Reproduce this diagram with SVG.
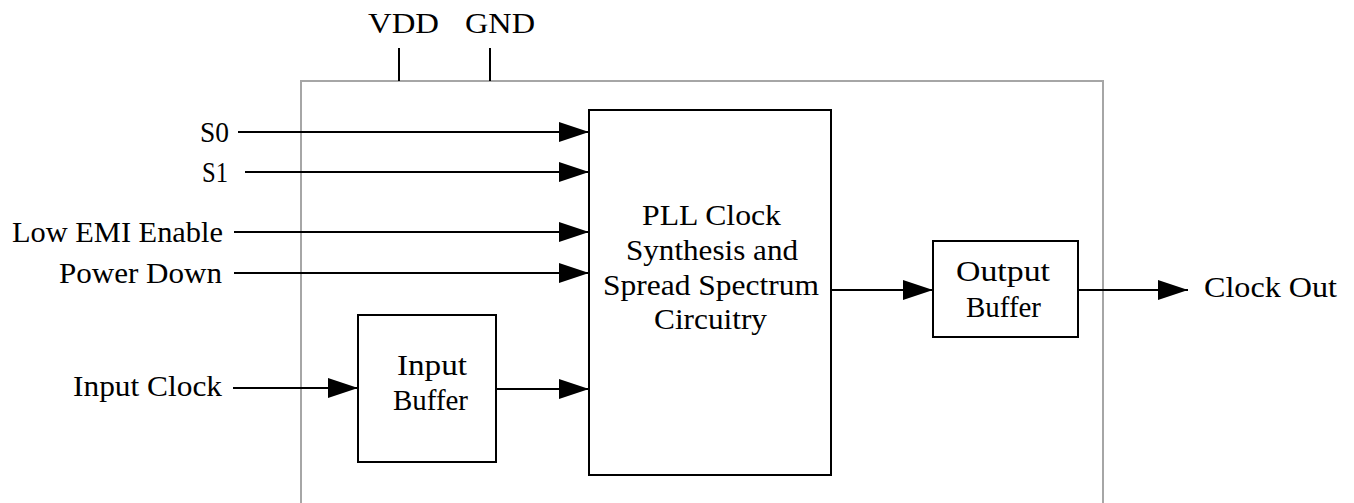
<svg xmlns="http://www.w3.org/2000/svg" width="1354" height="503" viewBox="0 0 1354 503">
<defs>
<style>
text{font-family:"Liberation Serif","Times New Roman",serif;font-size:30px;fill:#000}
.box{fill:#fff;stroke:#000;stroke-width:2}
.wire{fill:none;stroke:#000;stroke-width:2}
.chip{fill:none;stroke:#a6a6a6;stroke-width:2}
</style>
<marker id="ah" viewBox="0 0 30 20" refX="30" refY="10" markerWidth="30" markerHeight="20" markerUnits="userSpaceOnUse" orient="auto">
<path d="M0,0 L30,10 L0,20 Z" fill="#000"/>
</marker>
</defs>
<rect width="1354" height="503" fill="#fff"/>
<g id="chip">
<path class="chip" d="M301,520 L301,81 L1103,81 L1103,520"/>
</g>
<g id="power">
<text x="368" y="33" textLength="71" lengthAdjust="spacingAndGlyphs">VDD</text>
<text x="465" y="33" textLength="70" lengthAdjust="spacingAndGlyphs">GND</text>
<line class="wire" x1="399" y1="48" x2="399" y2="81"/>
<line class="wire" x1="490" y1="48" x2="490" y2="81"/>
</g>
<g id="pll">
<rect class="box" x="589" y="110" width="242" height="365"/>
<text x="642" y="225" textLength="139" lengthAdjust="spacingAndGlyphs">PLL Clock</text>
<text x="626" y="260" textLength="172" lengthAdjust="spacingAndGlyphs">Synthesis and</text>
<text x="603" y="295" textLength="216" lengthAdjust="spacingAndGlyphs">Spread Spectrum</text>
<text x="654" y="329" textLength="113" lengthAdjust="spacingAndGlyphs">Circuitry</text>
</g>
<g id="input-buffer">
<rect class="box" x="358" y="315" width="138" height="147"/>
<text x="397" y="375" textLength="70" lengthAdjust="spacingAndGlyphs">Input</text>
<text x="393" y="410" textLength="75" lengthAdjust="spacingAndGlyphs">Buffer</text>
</g>
<g id="output-buffer">
<rect class="box" x="933" y="241" width="145" height="96"/>
<text x="956" y="281" textLength="94" lengthAdjust="spacingAndGlyphs">Output</text>
<text x="966" y="317" textLength="75" lengthAdjust="spacingAndGlyphs">Buffer</text>
</g>
<g id="labels">
<text x="200" y="142" textLength="29" lengthAdjust="spacingAndGlyphs">S0</text>
<text x="202" y="182" textLength="26" lengthAdjust="spacingAndGlyphs">S1</text>
<text x="12" y="242" textLength="211" lengthAdjust="spacingAndGlyphs">Low EMI Enable</text>
<text x="59" y="283" textLength="163" lengthAdjust="spacingAndGlyphs">Power Down</text>
<text x="73" y="396" textLength="149" lengthAdjust="spacingAndGlyphs">Input Clock</text>
<text x="1204" y="297" textLength="133" lengthAdjust="spacingAndGlyphs">Clock Out</text>
</g>
<g id="connectors">
<line class="wire" x1="238" y1="132" x2="589" y2="132" marker-end="url(#ah)"/>
<line class="wire" x1="245" y1="172" x2="589" y2="172" marker-end="url(#ah)"/>
<line class="wire" x1="234" y1="232" x2="589" y2="232" marker-end="url(#ah)"/>
<line class="wire" x1="234" y1="273" x2="589" y2="273" marker-end="url(#ah)"/>
<line class="wire" x1="233" y1="388" x2="358" y2="388" marker-end="url(#ah)"/>
<line class="wire" x1="496" y1="389" x2="589" y2="389" marker-end="url(#ah)"/>
<line class="wire" x1="831" y1="290" x2="933" y2="290" marker-end="url(#ah)"/>
<line class="wire" x1="1078" y1="290" x2="1188" y2="290" marker-end="url(#ah)"/>
</g>
</svg>
